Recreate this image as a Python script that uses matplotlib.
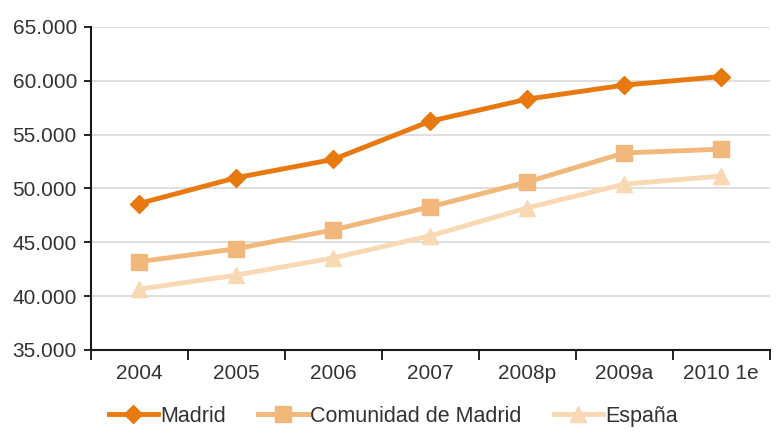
import numpy as np
import matplotlib.pyplot as plt
from matplotlib.ticker import FuncFormatter

years = ['2004', '2005', '2006', '2007', '2008p', '2009a', '2010 1e']
madrid = [48600, 51000, 52700, 56250, 58300, 59600, 60400]
comunidad = [43200, 44400, 46150, 48300, 50600, 53300, 53650]
espana = [40650, 41950, 43550, 45600, 48200, 50400, 51150]

plt.rcParams['font.family'] = ['Liberation Sans', 'DejaVu Sans']

fig = plt.figure(figsize=(7.76, 4.32), dpi=100)
ax = fig.add_axes([0.117, 0.19, 0.875, 0.7475])

x = np.arange(len(years))
ax.plot(x, madrid, color='#E8790F', lw=3.5, marker='D', ms=9, label='Madrid')
ax.plot(x, comunidad, color='#F2B77A', lw=3.5, marker='s', ms=11, label='Comunidad de Madrid')
ax.plot(x, espana, color='#F8D9B4', lw=3.5, marker='^', ms=11, label='España')

ax.set_xlim(-0.5, len(years) - 0.5)
ax.set_ylim(35000, 65000)
ax.set_yticks(np.arange(35000, 65001, 5000))
ax.yaxis.set_major_formatter(FuncFormatter(lambda v, p: '{:,.0f}'.format(v).replace(',', '.')))
ax.grid(axis='y', color='#d9d9d9', lw=1.2)
ax.set_axisbelow(True)

ax.set_xticks(x)
ax.set_xticklabels(years)
ax.set_xticks(np.arange(-0.5, len(years)), minor=True)
ax.tick_params(axis='x', which='major', length=0, pad=10, labelsize=15, labelcolor='#333333')
ax.tick_params(axis='x', which='minor', length=7, width=1.2, direction='out')
ax.tick_params(axis='y', length=5, width=1.2, labelsize=15, labelcolor='#333333', pad=5)

for s in ['top', 'right']:
    ax.spines[s].set_visible(False)
for s in ['left', 'bottom']:
    ax.spines[s].set_linewidth(1.5)
    ax.spines[s].set_color('#1a1a1a')

fig.legend(loc='center left', bbox_to_anchor=(0.14, 0.037), ncol=3, frameon=False,
           fontsize=15.5, handlelength=2.3, handletextpad=0.1, columnspacing=1.5,
           borderpad=0, borderaxespad=0, labelcolor='#333333')

fig.savefig('out.png', dpi=100)
